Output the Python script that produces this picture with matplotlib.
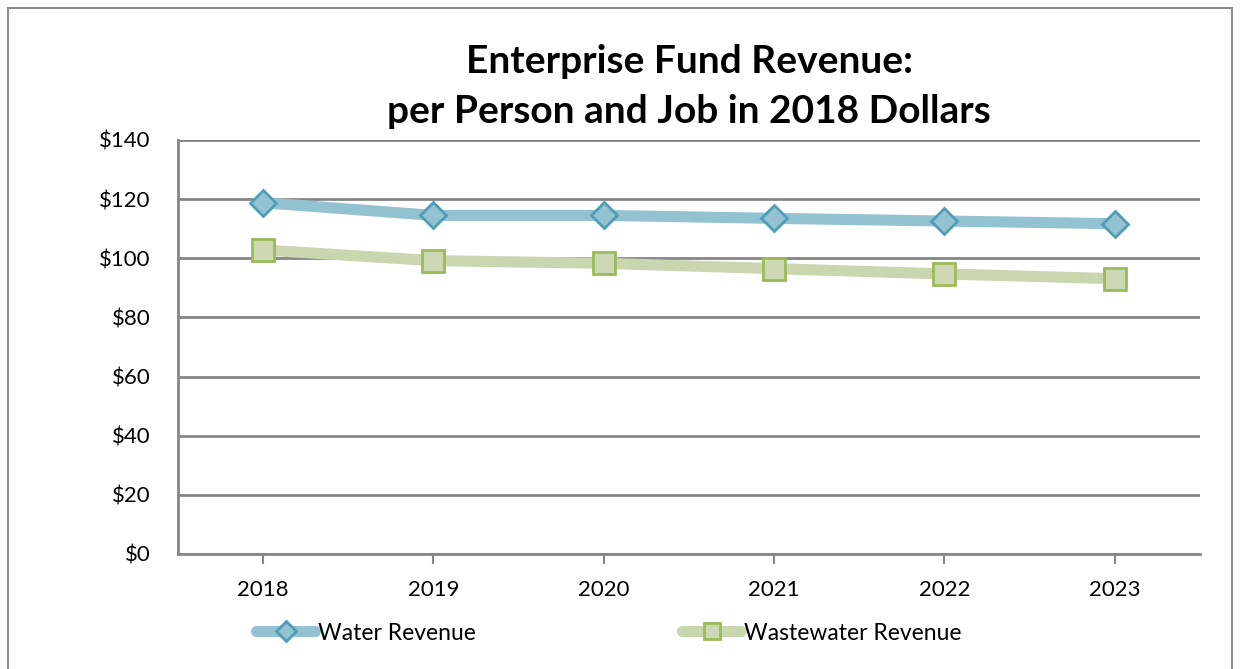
import matplotlib.pyplot as plt
from matplotlib.patches import Rectangle

years = ['2018', '2019', '2020', '2021', '2022', '2023']
water = [118.8, 114.5, 114.5, 113.5, 112.6, 111.7]
wastewater = [102.8, 99.2, 98.3, 96.5, 94.7, 93.1]
yticks = [0, 20, 40, 60, 80, 100, 120, 140]

plt.rcParams['font.family'] = ['Lato', 'DejaVu Sans']

fig = plt.figure(figsize=(12.42, 6.69), dpi=100)
ax = fig.add_axes([178 / 1242, 1 - 554 / 669, 1022 / 1242, 414 / 669])

# outer chart border
fig.patches.append(Rectangle((8 / 1242, -0.05), 1224 / 1242, 1.05 - 8 / 669,
                             transform=fig.transFigure, fill=False,
                             edgecolor='#8c8c8c', linewidth=1.5))

x = range(len(years))
ax.plot(x, water, color='#93c3d0', linewidth=8, solid_capstyle='round',
        marker='D', markersize=13, markerfacecolor='#93c3d0',
        markeredgecolor='#4f9db6', markeredgewidth=2, label='Water Revenue', zorder=3)
ax.plot(x, wastewater, color='#c9d6b0', linewidth=8, solid_capstyle='round',
        marker='s', markersize=16, markerfacecolor='#cdd9b4',
        markeredgecolor='#9bbb59', markeredgewidth=2, label='Wastewater Revenue', zorder=3)

ax.set_xlim(-0.5, len(years) - 0.5)
ax.set_ylim(0, 140)
ax.set_yticks(yticks)
ax.set_yticklabels(['$%d' % v for v in yticks])
ax.set_xticks(list(x))
ax.set_xticklabels(years)
ax.yaxis.grid(True, color='#868686', linewidth=2)
ax.set_axisbelow(True)

for s in ['top', 'right']:
    ax.spines[s].set_visible(False)
ax.spines['left'].set_color('#868686')
ax.spines['bottom'].set_color('#868686')
ax.spines['left'].set_linewidth(2)
ax.spines['bottom'].set_linewidth(2)
ax.tick_params(axis='y', length=0, labelsize=16, pad=20)
ax.tick_params(axis='x', length=7, width=1.5, color='#868686', labelsize=16, pad=12)

fig.text(0.555, 0.908, 'Enterprise Fund Revenue:', ha='center', va='center',
         fontsize=28, fontweight='bold')
fig.text(0.555, 0.834, 'per Person and Job in 2018 Dollars', ha='center', va='center',
         fontsize=28, fontweight='bold')

fig.legend(loc='center', bbox_to_anchor=(0.49, 1 - 633 / 669), ncol=2, frameon=False,
           fontsize=16.5, columnspacing=9, handlelength=2.6, handletextpad=0.1,
           markerscale=0.75)

fig.savefig('out.png', dpi=100)
